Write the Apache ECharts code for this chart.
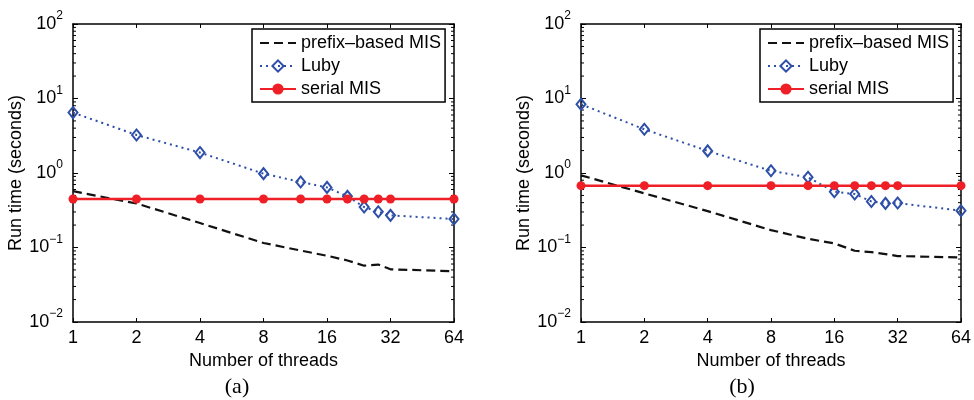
<!DOCTYPE html>
<html>
<head>
<meta charset="utf-8">
<script src="https://cdn.jsdelivr.net/npm/echarts@6/dist/echarts.min.js"></script>
<style>html,body{margin:0;padding:0;background:#fff}#c{width:974px;height:400px}</style>
</head>
<body>
<div id="c"></div>
<script>
// ---- data ----
const threads = [1, 2, 4, 8, 12, 16, 20, 24, 28, 32, 64];
const prefixA = [0.57, 0.39, 0.213, 0.115, 0.091, 0.0775, 0.067, 0.057, 0.059, 0.051, 0.048];
const lubyA   = [6.47, 3.24, 1.88, 0.98, 0.757, 0.641, 0.486, 0.349, 0.302, 0.270, 0.241];
const serialA = [0.448, 0.448, 0.448, 0.448, 0.448, 0.448, 0.448, 0.448, 0.448, 0.448, 0.448];
const prefixB = [0.93, 0.533, 0.308, 0.171, 0.131, 0.1135, 0.0904, 0.0867, 0.0816, 0.0767, 0.0736];
const lubyB   = [8.37, 3.86, 1.98, 1.07, 0.875, 0.561, 0.522, 0.415, 0.391, 0.395, 0.312];
const serialB = [0.676, 0.676, 0.676, 0.676, 0.676, 0.676, 0.676, 0.676, 0.676, 0.676, 0.676];
const seriesNames = ['prefix–based MIS', 'Luby', 'serial MIS'];
const xTitle = 'Number of threads';
const yTitle = 'Run time (seconds)';
const captions = ['(a)', '(b)'];

// ---- helpers ----
const FONT = '"Liberation Sans", Arial, Helvetica, sans-serif';
const BLUE = '#2e4fa8';
const RED = '#ee1f26';
const AX = {lineStyle: {color: '#000', width: 1.5}};
const zip = (xs, ys) => xs.map((x, i) => [x, ys[i]]);
const minorVals = [];
for (let k = -2; k < 2; k++) for (let m = 2; m <= 9; m++) minorVals.push(m * Math.pow(10, k));

const grids = [
  {left: 73, right: 520, top: 24, bottom: 78},
  {left: 581, right: 13, top: 24, bottom: 78}
];

const xAxes = [], yAxes = [], series = [], legends = [], graphics = [];
const sup = s => s.replace('-', '−');

grids.forEach((g, gi) => {
  xAxes.push({
    type: 'log', logBase: 2, gridIndex: gi, min: 1, max: 64, interval: 1,
    position: 'bottom',
    axisLine: AX, splitLine: {show: false},
    axisTick: {inside: true, length: 4, lineStyle: {color: '#000', width: 1}},
    axisLabel: {color: '#000', fontFamily: FONT, fontSize: 18, margin: 7,
      formatter: v => String(Math.round(v))},
    name: xTitle, nameLocation: 'middle', nameGap: 19,
    nameTextStyle: {color: '#000', fontFamily: FONT, fontSize: 18}
  });
  xAxes.push({
    type: 'log', logBase: 2, gridIndex: gi, min: 1, max: 64, interval: 1,
    position: 'top',
    axisLine: AX, splitLine: {show: false},
    axisTick: {inside: true, length: 4, lineStyle: {color: '#000', width: 1}},
    axisLabel: {show: false}
  });
  yAxes.push({
    type: 'log', logBase: 10, gridIndex: gi, min: 0.01, max: 100, interval: 1,
    position: 'left',
    axisLine: AX, splitLine: {show: false},
    axisTick: {inside: true, length: 5, lineStyle: {color: '#000', width: 1}},
    axisLabel: {
      color: '#000', margin: 10,
      formatter: v => '{b|10}{s|' + sup(String(Math.round(Math.log10(v)))) + '}',
      rich: {
        b: {fontFamily: FONT, fontSize: 18, lineHeight: 18, color: '#000'},
        s: {fontFamily: FONT, fontSize: 12, lineHeight: 12, padding: [0, 0, 16, 0], color: '#000'}
      }
    },
    name: yTitle, nameLocation: 'middle', nameGap: 40,
    nameTextStyle: {color: '#000', fontFamily: FONT, fontSize: 18}
  });
  yAxes.push({
    type: 'log', logBase: 10, gridIndex: gi, min: 0.01, max: 100, interval: 1,
    position: 'right',
    axisLine: AX, splitLine: {show: false},
    axisTick: {inside: true, length: 5, lineStyle: {color: '#000', width: 1}},
    axisLabel: {show: false}
  });

  const xi = gi * 2, yi = gi * 2;
  const pre = gi === 0 ? prefixA : prefixB;
  const lub = gi === 0 ? lubyA : lubyB;
  const ser = gi === 0 ? serialA : serialB;

  series.push({
    type: 'custom', xAxisIndex: xi, yAxisIndex: yi, silent: true, clip: false,
    data: minorVals.map(v => [1, v]),
    renderItem: (params, api) => {
      const v = api.value(1);
      const pl = api.coord([1, v]);
      const pr = api.coord([64, v]);
      const st = {stroke: '#000', lineWidth: 1};
      return {type: 'group', children: [
        {type: 'line', shape: {x1: pl[0], y1: pl[1], x2: pl[0] + 3, y2: pl[1]}, style: st},
        {type: 'line', shape: {x1: pr[0] - 3, y1: pr[1], x2: pr[0], y2: pr[1]}, style: st}
      ]};
    },
    z: 1
  });

  series.push({
    name: seriesNames[0], type: 'line', xAxisIndex: xi, yAxisIndex: yi,
    data: zip(threads, pre), symbol: 'none', clip: false,
    lineStyle: {color: '#111', width: 2.2, type: [9, 5]},
    itemStyle: {color: '#111'}, z: 3
  });
  series.push({
    name: seriesNames[1], type: 'line', xAxisIndex: xi, yAxisIndex: yi,
    data: zip(threads, lub), symbol: 'diamond', symbolSize: [9, 11], clip: false,
    lineStyle: {color: BLUE, width: 2, type: [2, 4]},
    itemStyle: {color: 'rgba(255,255,255,0)', borderColor: BLUE, borderWidth: 2}, z: 4
  });
  series.push({
    name: seriesNames[2], type: 'line', xAxisIndex: xi, yAxisIndex: yi,
    data: zip(threads, ser), symbol: 'circle', symbolSize: 9, clip: false,
    lineStyle: {color: RED, width: 2.5},
    itemStyle: {color: RED}, z: 5
  });

  legends.push({
    data: [
      {name: seriesNames[0], itemStyle: {opacity: 0}},
      {name: seriesNames[1]},
      {name: seriesNames[2]}
    ],
    orient: 'vertical',
    left: gi === 0 ? 252 : 760, top: 29,
    backgroundColor: '#fff', borderColor: '#000', borderWidth: 1.5, borderRadius: 0,
    padding: [5, 4, 4, 7], itemWidth: 36, itemHeight: 14, itemGap: 5,
    textStyle: {color: '#000', fontFamily: FONT, fontSize: 18},
    selectedMode: false
  });

  graphics.push({
    type: 'text', x: gi === 0 ? 237 : 742, y: 387,
    style: {text: captions[gi], textAlign: 'center', textVerticalAlign: 'middle',
      font: '22px "Liberation Serif", "DejaVu Serif", serif', fill: '#000'}
  });
});

const chart = echarts.init(document.getElementById('c'), null, {renderer: 'canvas'});
chart.setOption({
  animation: false,
  backgroundColor: '#fff',
  grid: grids,
  xAxis: xAxes,
  yAxis: yAxes,
  legend: legends,
  series: series,
  graphic: graphics
});
</script>
</body>
</html>
